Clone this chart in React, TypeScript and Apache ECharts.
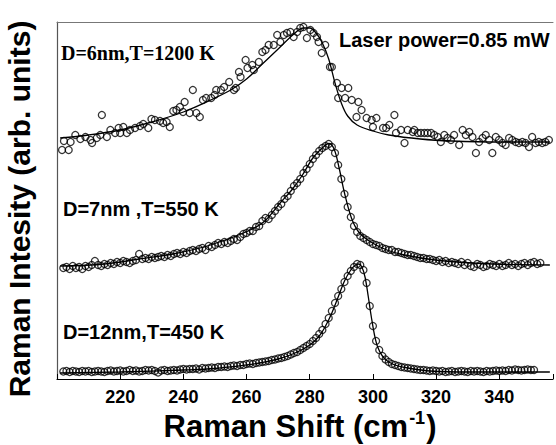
import React, { useEffect, useRef } from "react";
import * as echarts from "echarts";

// Spectrum 1: D=6nm, T=1200 K (measured points)
const shift1 = [201.6, 202.2, 203.7, 204.3, 205.8, 207.4, 209.0, 210.6, 211.1, 212.6, 213.7, 214.2, 215.8, 216.9, 218.4, 219.5, 220.0, 221.0, 222.1, 223.1, 224.7, 226.3, 227.3, 228.9, 229.9, 231.0, 232.6, 233.6, 234.7, 235.7, 236.8, 237.8, 238.9, 239.9, 240.4, 242.0, 243.0, 244.1, 245.2, 246.2, 247.2, 248.8, 249.9, 250.4, 251.9, 252.9, 254.5, 256.0, 256.6, 257.6, 258.1, 259.7, 260.3, 261.8, 262.3, 263.9, 265.0, 266.0, 267.0, 268.6, 269.7, 270.7, 271.8, 272.8, 273.9, 274.9, 276.0, 277.0, 278.0, 279.1, 280.2, 281.2, 282.3, 282.8, 283.8, 284.9, 286.4, 287.0, 288.6, 289.0, 290.1, 291.2, 292.2, 293.3, 294.8, 295.4, 296.4, 298.0, 299.6, 300.0, 301.1, 303.2, 304.2, 305.2, 306.8, 307.3, 308.9, 310.0, 311.0, 312.6, 313.1, 314.2, 315.2, 316.3, 317.3, 318.4, 319.4, 320.5, 321.5, 322.6, 323.6, 324.7, 325.7, 327.3, 328.4, 329.4, 330.5, 331.5, 332.6, 333.6, 334.7, 335.7, 336.8, 337.8, 338.9, 339.9, 341.0, 342.0, 343.1, 344.1, 345.2, 346.2, 347.3, 348.3, 349.4, 350.4, 351.5, 352.5, 353.6, 354.6, 355.7];
const int1 = [229, 238, 229, 237, 244, 240, 242, 239, 236, 241, 244, 264, 242, 249, 246, 251, 246, 252, 246, 249, 251, 253, 255, 251, 260, 259, 258, 256, 257, 252, 268, 269, 272, 267, 277, 266, 289, 266, 262, 279, 281, 281, 284, 289, 289, 292, 297, 289, 291, 307, 302, 319, 311, 314, 309, 317, 327, 329, 334, 334, 344, 337, 344, 346, 347, 342, 347, 351, 352, 341, 349, 346, 342, 337, 326, 334, 312, 312, 296, 281, 291, 281, 291, 279, 262, 277, 269, 261, 259, 252, 261, 251, 251, 254, 264, 246, 249, 236, 249, 247, 249, 246, 246, 246, 246, 246, 244, 242, 237, 244, 241, 239, 244, 234, 249, 244, 247, 242, 226, 237, 241, 244, 239, 226, 242, 239, 236, 234, 241, 239, 237, 236, 237, 236, 232, 242, 236, 237, 236, 237, 239];
const fit1X = [201, 210, 220, 230, 240, 250, 255, 260, 265, 270, 275, 278, 280, 282, 284, 286, 288, 290, 292, 295, 300, 305, 315, 325, 340, 356];
const fit1Y = [241, 244, 249, 257, 267, 281, 289, 300, 315, 330, 345, 351, 351, 346, 336, 320, 296, 276, 263, 254, 248, 244, 240, 238, 237, 237];

// Spectrum 2: D=7nm, T=550 K (one point per cm-1 from shift2Start)
const shift2Start = 202;
const int2 = [111, 112, 110, 113, 111, 112, 110, 113, 112, 114, 118, 114, 113, 115, 114, 116, 115, 117, 116, 118, 117, 116, 118, 119, 125, 120, 121, 120, 122, 121, 122, 123, 122, 124, 123, 125, 126, 125, 127, 126, 128, 129, 128, 130, 131, 129, 133, 132, 134, 136, 135, 137, 136, 138, 140, 139, 142, 145, 146, 148, 148, 152, 153, 158, 161, 160, 164, 168, 172, 175, 180, 183, 188, 193, 196, 200, 206, 210, 215, 220, 224, 228, 231, 233, 235, 232, 226, 214, 200, 185, 172, 162, 153, 147, 143, 141, 139, 137, 135, 134, 133, 131, 130, 129, 129, 127, 127, 126, 125, 124, 124, 123, 122, 121, 121, 120, 120, 119, 118, 119, 117, 118, 116, 117, 116, 115, 117, 114, 116, 113, 112, 115, 114, 112, 113, 115, 114, 113, 115, 113, 114, 116, 114, 115, 113, 115, 116, 114, 116, 117, 115, 116];
const fit2X = [201, 215, 226, 237.5, 248.6, 259.8, 265.4, 270.9, 274.3, 277.6, 281, 284.3, 286, 287.7, 289.3, 291, 293.2, 295.5, 298.8, 304.4, 310, 321, 338, 356];
const fit2Y = [113, 115, 120, 125.5, 134, 147, 157, 177, 189, 203.5, 221, 232, 235.5, 230, 211, 186, 161, 147, 138, 129, 124, 118.5, 115, 114];

// Spectrum 3: D=12nm, T=450 K
const shift3Start = 202;
const int3 = [7.5, 8, 7, 8, 7.5, 7, 8, 7.5, 8, 7, 7.5, 8, 7.5, 7, 8, 8.5, 7.5, 8, 8.5, 7.5, 8, 9, 8, 8.5, 7.5, 8, 9, 8.5, 9, 8, 6.5, 8.5, 9, 8, 8.5, 9, 8.5, 9.5, 10, 9.5, 10, 10, 10.5, 9.5, 11, 10.5, 11, 11.5, 11, 12, 12, 12.5, 12, 13, 13.5, 13, 14, 14, 15, 15.5, 15, 16, 16.5, 17, 17.5, 18, 19, 19.5, 20.5, 21, 22, 23, 24.5, 26, 27, 29, 31, 33, 35, 38, 41, 45, 49, 55, 61, 68, 76, 83, 90, 97, 103, 108, 112, 115, 114, 109, 96, 73, 53, 38, 29, 23, 19.5, 17, 15, 14, 13, 12, 11.5, 11, 10.5, 10, 9.5, 9, 9, 8.5, 8, 8.5, 8, 7.5, 8, 7, 7.5, 8, 7, 7.5, 8, 7.5, 7, 8, 7.5, 8, 7.5, 7, 8, 7.5, 8, 8.5, 8, 8.5, 8, 9, 8.5, 9.5, 9, 8.5, 9, 9.5, 9, 9];
const fit3X = [201, 220, 240, 250, 260, 265, 270, 275, 280, 283, 285, 287, 289, 291, 293, 294.5, 295.5, 296.5, 297.5, 298.5, 299.5, 300.5, 301.5, 303, 305, 308, 312, 318, 330, 356];
const fit3Y = [6, 7, 9, 10.5, 14, 16.5, 20, 25.5, 34, 43, 53, 66, 82, 98, 109, 114, 115, 112, 102, 83, 62, 44, 32, 23, 17, 13, 10.5, 8, 7, 7];

const labels = ["D=6nm,T=1200 K", "D=7nm ,T=550 K", "D=12nm,T=450 K", "Laser power=0.85 mW"];

const SANS = 'Arial, "Liberation Sans", sans-serif';
const SERIF = '"Times New Roman", "Liberation Serif", serif';

function pairs(xs: number[], ys: number[]) {
  return xs.map((x, i) => [x, ys[i]]);
}
function gridPairs(start: number, ys: number[]) {
  return ys.map((y, i) => [start + i, y]);
}

const scatterStyle = {
  type: "scatter",
  symbol: "circle",
  symbolSize: 7,
  itemStyle: { color: "rgba(255,255,255,0)", borderColor: "#000", borderWidth: 1.3 },
  silent: true,
  z: 3,
};
const lineStyle = {
  type: "line",
  smooth: 0.35,
  showSymbol: false,
  symbol: "none",
  lineStyle: { color: "#000", width: 1.3 },
  silent: true,
  z: 2,
};

export default function App() {
  const ref = useRef<HTMLDivElement>(null);
  useEffect(() => {
    document.body.style.margin = "0";
    const chart = echarts.init(ref.current!, null, { renderer: "svg" });
    chart.setOption({
      animation: false,
      backgroundColor: "#fff",
      grid: { left: 57, right: 0, top: 22, bottom: 66, containLabel: false },
      xAxis: [
        {
          type: "value",
          min: 200,
          max: 357,
          interval: 20,
          position: "bottom",
          axisLine: { show: true, lineStyle: { color: "#000", width: 1.2 } },
          axisTick: { show: true, inside: true, length: 5, lineStyle: { color: "#000", width: 1 } },
          axisLabel: {
            formatter: (v: number) => (v % 20 === 0 && v > 200 && v < 357 ? String(v) : ""),
            fontSize: 18,
            fontWeight: "bold",
            fontFamily: SANS,
            color: "#000",
            margin: 9,
          },
          splitLine: { show: false },
        },
        {
          type: "value",
          min: 200,
          max: 357,
          position: "top",
          axisLine: { show: true, lineStyle: { color: "#777", width: 1 } },
          axisTick: { show: false },
          axisLabel: { show: false },
          splitLine: { show: false },
        },
      ],
      yAxis: {
        type: "value",
        min: 0,
        max: 357,
        axisLine: { show: true, lineStyle: { color: "#555", width: 1.2 } },
        axisTick: { show: false },
        axisLabel: { show: false },
        splitLine: { show: false },
      },
      series: [
        { ...lineStyle, data: pairs(fit1X, fit1Y) },
        { ...scatterStyle, data: pairs(shift1, int1) },
        { ...lineStyle, data: pairs(fit2X, fit2Y) },
        { ...scatterStyle, data: gridPairs(shift2Start, int2) },
        { ...lineStyle, data: pairs(fit3X, fit3Y) },
        { ...scatterStyle, data: gridPairs(shift3Start, int3) },
      ],
      graphic: [
        {
          type: "text",
          x: 19,
          y: 209,
          rotation: Math.PI / 2,
          style: {
            text: "Raman Intesity (arb. units)",
            font: `bold 30px ${SANS}`,
            fill: "#000",
            align: "center",
            verticalAlign: "middle",
          },
        },
        {
          type: "text",
          x: 300,
          y: 426,
          style: {
            text: "{a|Raman Shift (cm}{b|-1}{a|)}",
            fill: "#000",
            align: "center",
            verticalAlign: "middle",
            rich: {
              a: { fontSize: 31, fontWeight: "bold", fontFamily: SANS, fill: "#000", lineHeight: 35 },
              b: { fontSize: 18, fontWeight: "bold", fontFamily: SANS, fill: "#000", verticalAlign: "top", lineHeight: 35, padding: [0, 1, 0, 1] },
            },
          },
        },
        {
          type: "text",
          x: 61,
          y: 52.5,
          style: { text: labels[0], font: `bold 20px ${SERIF}`, fill: "#000", align: "left", verticalAlign: "middle" },
        },
        {
          type: "text",
          x: 63,
          y: 209,
          style: { text: labels[1], font: `bold 20px ${SANS}`, fill: "#000", align: "left", verticalAlign: "middle" },
        },
        {
          type: "text",
          x: 63,
          y: 332,
          style: { text: labels[2], font: `bold 20px ${SANS}`, fill: "#000", align: "left", verticalAlign: "middle" },
        },
        {
          type: "text",
          x: 339,
          y: 40,
          style: { text: labels[3], font: `bold 20px ${SANS}`, fill: "#000", align: "left", verticalAlign: "middle" },
        },
      ],
    });
    return () => chart.dispose();
  }, []);
  return <div ref={ref} style={{ width: 556, height: 445 }} />;
}
